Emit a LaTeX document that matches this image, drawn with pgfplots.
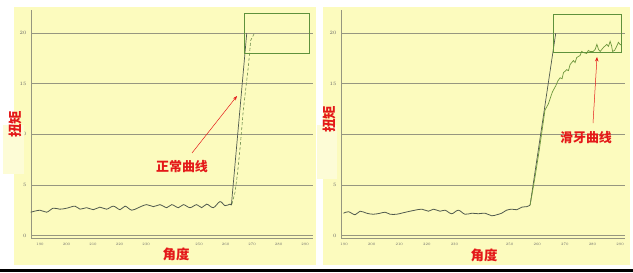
\documentclass[border=0pt]{standalone}
\usepackage{pgfplots}
\pgfplotsset{compat=1.18}
\usepackage{fontspec}
\newfontfamily\cjk{Noto Sans CJK SC}
\usetikzlibrary{arrows.meta}

\definecolor{panel}{RGB}{252,251,190}
\definecolor{labelbox}{RGB}{253,252,214}
\definecolor{gridc}{RGB}{150,150,128}
\definecolor{trace}{RGB}{80,90,78}
\definecolor{slip}{RGB}{110,150,60}
\definecolor{limitbox}{RGB}{95,145,60}
\definecolor{note}{RGB}{228,25,25}

\pgfplotsset{
  torque/.style={
    scale only axis,
    anchor=south west,
    height=228bp,
    axis x line=bottom, axis y line=left,
    axis line style={gridc, line width=0.8pt, -},
    ymin=-0.25, ymax=22.3,
    ytick={0,5,10,15,20},
    ymajorgrids,
    grid style={gridc, line width=0.8pt},
    xtick={190,200,...,290},
    xticklabels={190,200,210,220,230,,250,260,270,280,290},
    major tick length=0pt,
    tick label style={font=\fontsize{3.6}{4}\selectfont, text=gray!80!black},
    xticklabel style={yshift=-1.5bp},
    yticklabel style={xshift=-1bp},
    clip=false,
  },
  base/.style={trace, line width=0.8pt, smooth, tension=0.55},
  rise/.style={trace, line width=0.7pt},
}

\begin{document}
\begin{tikzpicture}[x=1bp, y=1bp]
  \useasboundingbox (0,0) rectangle (633,272);
  \fill[white] (0,0) rectangle (633,272);
  % panels
  \fill[panel] (14,7) rectangle (316,265);
  \fill[panel] (323,7) rectangle (630,265);
  \fill[black] (0,0.5) rectangle (633,3);

  % ---------- normal tightening ----------
  \begin{axis}[torque, at={(31bp,34bp)}, width=282bp, xmin=186.6, xmax=293.0]
    \addplot[base] coordinates {
      (186.5,2.3)(190.0,2.5)(192.5,2.3)(195.0,2.7)(197.5,2.6)(200.1,2.7)
      (203.2,2.9)(205.1,2.6)(207.6,2.75)(210.1,2.55)(212.6,2.8)(215.1,2.6)
      (217.7,2.9)(220.2,2.55)(222.1,2.9)(224.6,2.5)(227.1,2.75)(230.2,3.05)
      (232.8,2.85)(235.3,3.05)(237.8,2.75)(239.7,3.05)(242.2,2.75)(244.1,3.05)
      (246.6,2.75)(249.1,3.05)(251.0,2.75)(252.9,3.1)(255.4,2.75)(257.9,3.35)
      (259.8,2.95)(261.7,3.1)(262.2,3.0)};
    \addplot[rise] coordinates {(262.2,3.0)(268.0,20)};
    \addplot[slip!70!gray, line width=0.6pt, densely dashed] coordinates {
      (262.4,3.1)(263.6,4.3)(264.5,6.1)(265.5,8.7)(266.7,12.4)
      (268.6,16.7)(269.5,19.3)(270.9,20)};
    \addplot[limitbox, line width=0.9pt] coordinates {
      (267,18)(291.5,18)(291.5,22)(267,22)(267,18)};
  \end{axis}

  % ---------- thread stripping ----------
  \begin{axis}[torque, at={(341bp,34bp)}, width=284bp, xmin=188.9, xmax=291.8]
    \addplot[base] coordinates {
      (189.8,2.2)(191.6,2.35)(194.0,2.05)(195.8,2.4)(198.2,2.2)(200.6,2.1)
      (203.1,2.2)(204.9,2.3)(206.7,2.1)(209.1,2.1)(211.5,2.25)(213.9,2.4)
      (215.7,2.5)(218.2,2.6)(220.6,2.4)(222.4,2.6)(224.8,2.4)(226.6,2.5)
      (229.0,2.15)(231.4,2.5)(233.8,2.1)(236.3,2.2)(238.7,2.15)(241.1,2.2)
      (243.5,1.95)(245.3,2.05)(247.1,2.2)(248.9,2.5)(250.8,2.6)(252.6,2.55)
      (254.4,2.8)(256.2,2.85)(257.4,3.0)};
    \addplot[rise] coordinates {(257.4,3.0)(266.7,20)};
    \addplot[slip, line width=0.7pt] coordinates {
      (257.4,3.0)(258.0,3.9)(259.2,5.8)(260.7,8.4)(261.6,10.1)(262.8,12.4)
      (264.0,13.0)(265.5,14.2)(266.7,14.8)(267.5,15.3)(268.3,15.6)(269.0,15.5)
      (269.5,16.1)(270.7,16.4)(271.3,16.3)(271.9,16.9)(273.1,17.3)(273.7,17.1)
      (274.3,17.6)(275.5,17.8)(276.1,18.2)(276.7,18.1)(277.9,18.0)(278.5,18.3)
      (279.1,18.2)(280.3,18.2)(281.0,18.4)(281.6,18.9)(282.2,18.4)(282.8,18.2)
      (284.0,18.6)(285.2,18.9)(285.8,18.7)(286.4,19.2)(286.9,18.8)(287.3,18.2)
      (288.0,18.3)(288.6,18.6)(289.4,19.1)(290.0,18.9)(290.6,18.8)};
    \addplot[limitbox, line width=0.7pt] coordinates {
      (265.7,18.1)(290.6,18.1)(290.6,21.9)(265.7,21.9)(265.7,18.1)};
  \end{axis}

  % axis titles
  \fill[labelbox] (3,98) rectangle (24,147);
  \node[rotate=90, text=note, font=\cjk\bfseries\fontsize{13.5}{14}\selectfont, inner sep=0pt] at (15.5,148) {扭矩};
  \fill[labelbox] (317,93) rectangle (337,147);
  \node[rotate=90, text=note, font=\cjk\bfseries\fontsize{13.5}{14}\selectfont, inner sep=0pt] at (329.5,153) {扭矩};
  \node[text=note, font=\cjk\bfseries\fontsize{13.5}{14}\selectfont, inner sep=0pt] at (176,18) {角度};
  \node[text=note, font=\cjk\bfseries\fontsize{13.5}{14}\selectfont, inner sep=0pt] at (484,17) {角度};

  % annotations
  \node[text=note, font=\cjk\bfseries\fontsize{13}{14}\selectfont, inner sep=0pt] at (182,105) {正常曲线};
  \draw[note, line width=0.5pt, -{Stealth[length=4.5pt, width=3.5pt]}] (192,119) -- (237,176);
  \node[text=note, font=\cjk\bfseries\fontsize{13}{14}\selectfont, inner sep=0pt] at (586,134) {滑牙曲线};
  \draw[note, line width=0.5pt, -{Stealth[length=4.5pt, width=3.5pt]}] (593,149) -- (597,215);
\end{tikzpicture}
\end{document}
